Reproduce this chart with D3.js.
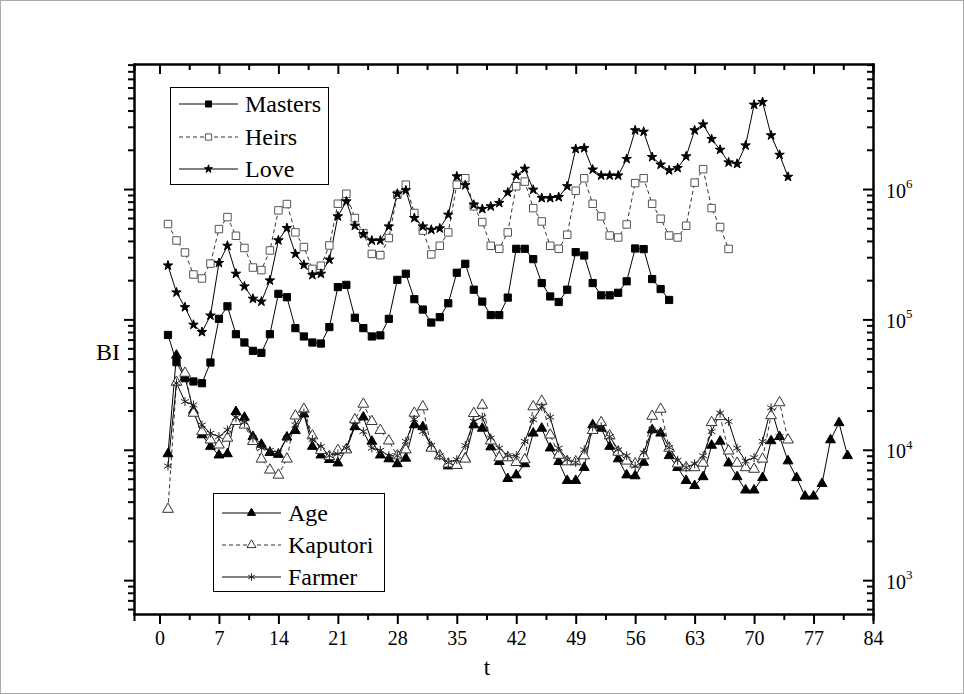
<script src="https://cdn.jsdelivr.net/npm/d3@7"></script>
<title>BI</title>
<style>
  body { margin: 0; background: #fff; }
  svg text { font-family: "Liberation Serif", "Times New Roman", serif; fill: #000; }
</style>
<body>
<script>
var xTicks = [0, 7, 14, 21, 28, 35, 42, 49, 56, 63, 70, 77, 84];
var yTicks = [1e3, 1e4, 1e5, 1e6];

var masters = [76000, 47000, 35400, 33400, 32400, 46700, 101000, 126000, 77000, 66500,
  57400, 55400, 77000, 157000, 148000, 85700, 74000, 66500, 65300, 87300,
  177000, 184000, 103000, 85700, 74000, 75400, 101000, 201000, 224000, 143000,
  119000, 94600, 104000, 133000, 228000, 267000, 169000, 137000, 108000, 108000,
  147000, 348000, 348000, 290000, 190000, 150000, 136000, 169000, 328000, 309000,
  190000, 153000, 153000, 160000, 196000, 350000, 346000, 204000, 171000, 141000];

var heirs = [539000, 403000, 326000, 221000, 206000, 268000, 493000, 609000, 438000, 353000,
  250000, 239000, 338000, 686000, 767000, 465000, 359000, 244000, 258000, 369000,
  771000, 920000, 599000, 459000, 318000, 311000, 421000, 904000, 1080000, 655000,
  480000, 315000, 367000, 465000, 1080000, 1210000, 736000, 558000, 367000, 348000,
  465000, 1050000, 1140000, 714000, 564000, 367000, 348000, 446000, 971000, 1210000,
  771000, 617000, 440000, 425000, 535000, 1110000, 1210000, 771000, 592000, 440000,
  425000, 523000, 1120000, 1420000, 714000, 511000, 347000];

var love = [259000, 161000, 124000, 91000, 80000, 107000, 271000, 367000, 224000, 179000,
  144000, 137000, 199000, 404000, 502000, 318000, 262000, 219000, 224000, 287000,
  617000, 804000, 523000, 451000, 403000, 403000, 516000, 920000, 976000, 599000,
  516000, 487000, 499000, 635000, 1250000, 1070000, 758000, 703000, 736000, 782000,
  942000, 1270000, 1430000, 988000, 853000, 853000, 868000, 1050000, 2030000, 2060000,
  1410000, 1270000, 1270000, 1270000, 1700000, 2820000, 2750000, 1760000, 1540000, 1390000,
  1450000, 1780000, 2820000, 3130000, 2420000, 2000000, 1600000, 1560000, 2160000, 4430000,
  4650000, 2580000, 1830000, 1240000];

var age = [9300, 53000, 36000, 20000, 13000, 10600, 9100, 9300, 19600, 17700,
  12600, 11000, 9500, 9200, 12500, 14000, 18800, 10600, 9100, 8400,
  7900, 10100, 15000, 17800, 11600, 9100, 8500, 7800, 8600, 15500,
  15000, 10400, 9000, 7500, 7600, 8600, 15500, 14600, 10500, 8100,
  6000, 6400, 7800, 13400, 14600, 10300, 8100, 5800, 5800, 7300,
  15500, 14600, 10600, 8500, 6400, 6300, 8000, 14200, 13400, 9000,
  7300, 5800, 5300, 6200, 10800, 11600, 7900, 6200, 4900, 4900,
  6100, 11700, 12600, 8200, 6100, 4400, 4400, 5500, 11900, 16100, 9000];

var kaputori = [3500, 33000, 38700, 19100, 13800, 11900, 10900, 12300, 16500, 15500,
  11600, 8500, 7000, 6400, 8500, 18200, 20500, 12800, 9900, 8900,
  9900, 10000, 17000, 22400, 16500, 14100, 11700, 9000, 10000, 19100,
  21400, 10300, 9000, 7800, 7600, 8500, 19000, 22000, 11700, 8700,
  8700, 8000, 8400, 21400, 23600, 13000, 9100, 8100, 8100, 9000,
  14100, 16200, 12800, 9600, 8200, 7800, 9000, 18100, 20500, 10300,
  7800, 7300, 7300, 7900, 16200, 18000, 9800, 7900, 7300, 7100,
  8500, 18300, 23000, 11900];

var farmer = [7500, 32500, 23400, 22100, 15500, 13400, 12600, 14200, 17700, 16200,
  12300, 10300, 9900, 9500, 12300, 15500, 19100, 12000, 10600, 9000,
  9300, 10300, 15500, 13800, 10300, 9900, 9000, 9000, 11600, 17100,
  13800, 10800, 9000, 8000, 8400, 10800, 16500, 17800, 12300, 10300,
  9000, 9000, 11600, 17000, 21400, 17800, 10300, 8400, 8000, 10000,
  15000, 15000, 12600, 10000, 9000, 7500, 9500, 14200, 13800, 10400,
  8300, 7300, 7800, 9000, 13800, 19100, 16500, 10300, 8200, 8700,
  11600, 21000, 12600];

var asterisk = {
  draw: function (ctx, size) {
    var r = Math.sqrt(size) / 2;
    ctx.moveTo(0, -r); ctx.lineTo(0, r);
    var a = r * Math.cos(Math.PI / 6), b = r * Math.sin(Math.PI / 6);
    ctx.moveTo(-a, -b); ctx.lineTo(a, b);
    ctx.moveTo(-a, b); ctx.lineTo(a, -b);
  }
};

var series = [
  { name: "Masters", data: masters, type: d3.symbolSquare, size: 52, fill: "#000", stroke: "#000", dash: null },
  { name: "Heirs", data: heirs, type: d3.symbolSquare, size: 56, fill: "#fff", stroke: "#555", dash: "4,3" },
  { name: "Love", data: love, type: d3.symbolStar, size: 28, fill: "#000", stroke: "#000", dash: null },
  { name: "Age", data: age, type: d3.symbolTriangle, size: 42, fill: "#000", stroke: "#000", dash: null },
  { name: "Kaputori", data: kaputori, type: d3.symbolTriangle, size: 50, fill: "#fff", stroke: "#333", dash: "4,3" },
  { name: "Farmer", data: farmer, type: asterisk, size: 80, fill: "none", stroke: "#222", dash: null }
];

var W = 964, H = 694;
var pLeft = 134, pRight = 873, pTop = 64, pBottom = 614;

var svg = d3.select("body").append("svg")
  .attr("width", W)
  .attr("height", H);

svg.append("rect")
  .attr("x", 0.5).attr("y", 0.5)
  .attr("width", W - 1).attr("height", H - 1)
  .attr("fill", "#fff").attr("stroke", "#aaa");

var x = d3.scaleLinear().domain([-3, 84]).range([pLeft, pRight]);
var y = d3.scaleLog().domain([550, 9.1e6]).range([pBottom, pTop]);

var xMinor = d3.range(3.5, 84, 7);
var yMinor = [];
[100, 1000, 10000, 100000, 1000000].forEach(function (d) {
  for (var k = 2; k <= 9; k++) {
    var v = k * d;
    if (v > 550 && v < 9.1e6) yMinor.push(v);
  }
});

function sup(sel) {
  sel.each(function (d) {
    var t = d3.select(this);
    t.text("10");
    t.append("tspan")
      .attr("dy", "-0.75em")
      .attr("font-size", "13px")
      .text(Math.round(Math.log10(d)));
  });
}

function styleAxis(g) {
  g.select(".domain").attr("stroke-width", 2);
  g.selectAll(".tick line").attr("stroke-width", 2);
}

// bottom
svg.append("g")
  .attr("transform", "translate(0," + pBottom + ")")
  .call(d3.axisBottom(x).tickValues(xMinor).tickSize(6).tickFormat(""))
  .call(styleAxis);
svg.append("g")
  .attr("transform", "translate(0," + pBottom + ")")
  .call(d3.axisBottom(x).tickValues(xTicks).tickSize(10).tickPadding(7).tickSizeOuter(0))
  .call(styleAxis)
  .selectAll("text").attr("font-size", "20px");

// top (ticks point into the plot)
svg.append("g")
  .attr("transform", "translate(0," + pTop + ")")
  .call(d3.axisTop(x).tickValues(xMinor).tickSize(-6).tickFormat(""))
  .call(styleAxis);
svg.append("g")
  .attr("transform", "translate(0," + pTop + ")")
  .call(d3.axisTop(x).tickValues(xTicks).tickSize(-10).tickFormat("").tickSizeOuter(0))
  .call(styleAxis);

// left
svg.append("g")
  .attr("transform", "translate(" + pLeft + ",0)")
  .call(d3.axisLeft(y).tickValues(yMinor).tickSize(6).tickFormat("").tickSizeOuter(0))
  .call(styleAxis);
svg.append("g")
  .attr("transform", "translate(" + pLeft + ",0)")
  .call(d3.axisLeft(y).tickValues(yTicks).tickSize(10).tickFormat("").tickSizeOuter(0))
  .call(styleAxis);

// right (ticks point into the plot, labels outside)
svg.append("g")
  .attr("transform", "translate(" + pRight + ",0)")
  .call(d3.axisRight(y).tickValues(yMinor).tickSize(-6).tickFormat("").tickSizeOuter(0))
  .call(styleAxis);
var yr = svg.append("g")
  .attr("transform", "translate(" + pRight + ",0)")
  .call(d3.axisRight(y).tickValues(yTicks).tickSize(-10).tickPadding(13).tickSizeOuter(0))
  .call(styleAxis);
yr.selectAll(".tick text")
  .attr("font-size", "20px")
  .attr("dy", "0.4em")
  .call(sup);

svg.selectAll(".domain").attr("stroke-linecap", "square");

svg.append("text")
  .attr("x", 487).attr("y", 675)
  .attr("text-anchor", "middle")
  .attr("font-size", "23px")
  .text("t");

svg.append("text")
  .attr("x", 108).attr("y", 360)
  .attr("text-anchor", "middle")
  .attr("font-size", "24px")
  .text("BI");

var line = d3.line()
  .x(function (d, i) { return x(i + 1); })
  .y(function (d) { return y(d); });

var plot = svg.append("g");

series.forEach(function (s) {
  plot.append("path")
    .attr("d", line(s.data))
    .attr("fill", "none")
    .attr("stroke", s.dash ? "#333" : "#000")
    .attr("stroke-width", 1)
    .attr("stroke-dasharray", s.dash);
});

series.forEach(function (s) {
  var sym = d3.symbol().type(s.type).size(s.size);
  plot.selectAll(null)
    .data(s.data)
    .enter().append("path")
    .attr("transform", function (d, i) { return "translate(" + x(i + 1) + "," + y(d) + ")"; })
    .attr("d", sym)
    .attr("fill", s.fill)
    .attr("stroke", s.stroke)
    .attr("stroke-width", 1);
});

function legend(items, bx, by, bw, bh, rowY) {
  var g = svg.append("g");
  g.append("rect")
    .attr("x", bx + 0.5).attr("y", by + 0.5)
    .attr("width", bw).attr("height", bh)
    .attr("fill", "#fff").attr("stroke", "#000").attr("stroke-width", 1);
  items.forEach(function (s, i) {
    var yy = by + rowY[i];
    g.append("line")
      .attr("x1", bx + 9).attr("x2", bx + 68)
      .attr("y1", yy).attr("y2", yy)
      .attr("stroke", s.dash ? "#333" : "#000")
      .attr("stroke-dasharray", s.dash);
    g.append("path")
      .attr("transform", "translate(" + (bx + 38.5) + "," + yy + ")")
      .attr("d", d3.symbol().type(s.type).size(s.size * 0.7)())
      .attr("fill", s.fill)
      .attr("stroke", s.stroke);
    g.append("text")
      .attr("x", bx + 75).attr("y", yy + 8)
      .attr("font-size", "24px")
      .text(s.name);
  });
}

legend(series.slice(0, 3), 170, 87, 158, 97, [17, 50, 82]);
legend(series.slice(3, 6), 213, 493, 171, 98, [20, 52, 84]);
</script>
</body>
